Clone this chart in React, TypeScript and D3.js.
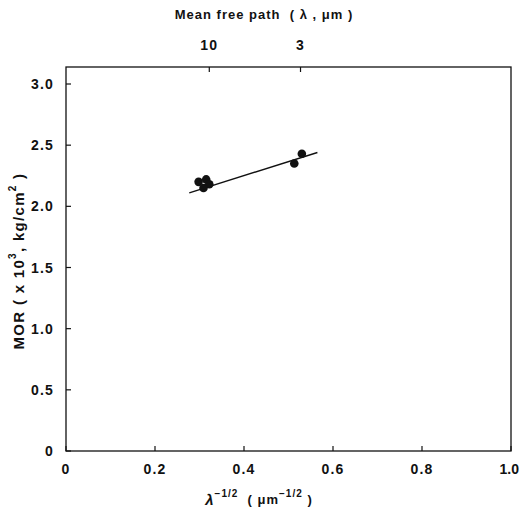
import React from "react";
import * as d3 from "d3";

const width = 520;
const height = 516;
const margin = { top: 67, right: 9, bottom: 65, left: 66 };

// data
const pointsX = [0.298, 0.315, 0.322, 0.309, 0.513, 0.53];
const pointsY = [2.2, 2.22, 2.18, 2.15, 2.35, 2.43];
const fitX = [0.277, 0.565];
const fitY = [2.11, 2.44];

const xTicks = [0, 0.2, 0.4, 0.6, 0.8, 1.0];
const xTickLabels = ["0", "0.2", "0.4", "0.6", "0.8", "1.0"];
const yTicks = [0, 0.5, 1.0, 1.5, 2.0, 2.5, 3.0];
const yTickLabels = ["0", "0.5", "1.0", "1.5", "2.0", "2.5", "3.0"];
const topTicks = [0.322, 0.527];
const topTickLabels = ["10", "3"];

const font = "'Liberation Sans', Arial, sans-serif";

export default function App() {
  const x = d3
    .scaleLinear()
    .domain([0, 1])
    .range([margin.left, width - margin.right]);
  const y = d3
    .scaleLinear()
    .domain([0, 3.0])
    .range([height - margin.bottom, 84]);

  const x0 = x(0);
  const x1 = x(1);
  const yb = y(0);
  const yt = margin.top;

  const line = d3
    .line<number>()
    .x((d) => x(d))
    .y((d, i) => y(fitY[i]));

  return (
    <svg
      width={width}
      height={height}
      style={{ position: "absolute", left: 0, top: 0, background: "#fff" }}
      fontFamily={font}
      fontWeight="bold"
    >
      <rect width={width} height={height} fill="#fff" />
      {/* frame */}
      <rect
        x={x0}
        y={yt}
        width={x1 - x0}
        height={yb - yt}
        fill="none"
        stroke="#111"
        strokeWidth={1.3}
      />
      {/* y axis */}
      {yTicks.map((t, i) => (
        <g key={"y" + i}>
          <line x1={x0} x2={x0 + 5} y1={y(t)} y2={y(t)} stroke="#111" strokeWidth={1.2} />
          <text
            x={54}
            y={y(t)}
            textAnchor="end"
            dominantBaseline="central"
            fontSize={14}
            letterSpacing={1.2}
            fill="#111"
          >
            {yTickLabels[i]}
          </text>
        </g>
      ))}
      {/* bottom axis */}
      {xTicks.map((t, i) => {
        const last = i === xTicks.length - 1;
        return (
          <g key={"x" + i}>
            <line x1={x(t)} x2={x(t)} y1={yb} y2={yb - 5} stroke="#111" strokeWidth={1.2} />
            <text
              x={last ? width - 1 : x(t)}
              y={469}
              textAnchor={last ? "end" : "middle"}
              dominantBaseline="central"
              fontSize={14}
              letterSpacing={last ? 0 : 1.2}
              fill="#111"
            >
              {xTickLabels[i]}
            </text>
          </g>
        );
      })}
      {/* top axis */}
      {topTicks.map((t, i) => (
        <g key={"t" + i}>
          <line x1={x(t)} x2={x(t)} y1={yt} y2={yt + 5} stroke="#111" strokeWidth={1.2} />
          <text
            x={x(t)}
            y={45}
            textAnchor="middle"
            dominantBaseline="central"
            fontSize={14}
            letterSpacing={1.2}
            fill="#111"
          >
            {topTickLabels[i]}
          </text>
        </g>
      ))}
      <text
        x={264}
        y={14}
        textAnchor="middle"
        dominantBaseline="central"
        fontSize={13}
        letterSpacing={1}
        fill="#111"
        style={{ whiteSpace: "pre" }}
      >
        {"Mean free path  ( λ , μm )"}
      </text>
      <text
        x={259}
        y={499}
        textAnchor="middle"
        dominantBaseline="central"
        fontSize={13}
        letterSpacing={1}
        fill="#111"
        style={{ whiteSpace: "pre" }}
      >
        <tspan fontStyle="italic" fontSize={15}>λ</tspan>
        <tspan fontSize={10} dy={-6}>−1/2</tspan>
        <tspan dy={6}>{"  ( μm"}</tspan>
        <tspan fontSize={10} dy={-6}>−1/2</tspan>
        <tspan dy={6}>{" )"}</tspan>
      </text>
      <text
        transform={`translate(18, ${(yt + yb) / 2 + 2}) rotate(-90)`}
        textAnchor="middle"
        dominantBaseline="central"
        fontSize={15}
        letterSpacing={1.3}
        fill="#111"
      >
        MOR ( x 10<tspan fontSize={10} dy={-6}>3</tspan>
        <tspan dy={6}>, kg/cm</tspan>
        <tspan fontSize={10} dy={-6}>2</tspan>
        <tspan dy={6}> )</tspan>
      </text>
      {/* fit line */}
      <path d={line(fitX) ?? ""} fill="none" stroke="#111" strokeWidth={1.4} />
      {/* points */}
      {pointsX.map((px, i) => (
        <circle key={"p" + i} cx={x(px)} cy={y(pointsY[i])} r={4.3} fill="#111" />
      ))}
    </svg>
  );
}
